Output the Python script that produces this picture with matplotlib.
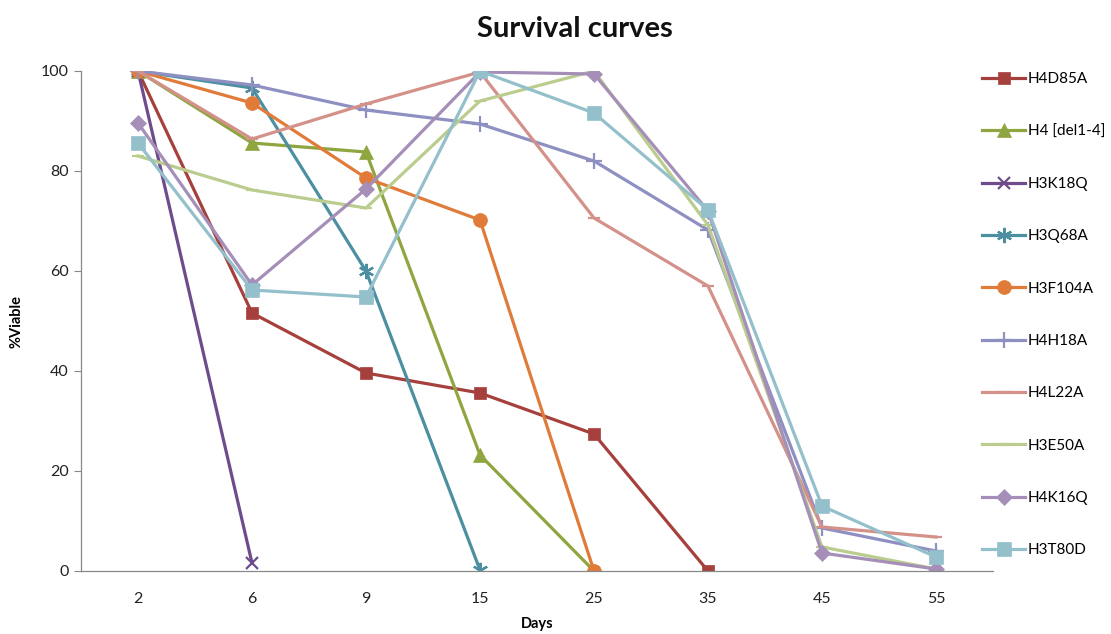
import numpy as np
import matplotlib
matplotlib.use("Agg")
import matplotlib.pyplot as plt

plt.rcParams['font.family'] = ['Lato', 'DejaVu Sans']

days = ["2", "6", "9", "15", "25", "35", "45", "55"]
nan = np.nan

h4d85a = [100, 51.6, 39.6, 35.6, 27.4, 0, nan, nan]
h4_del = [100, 85.6, 83.8, 23.2, 0, nan, nan, nan]
h3k18q = [100, 1.6, nan, nan, nan, nan, nan, nan]
h3q68a = [100, 96.6, 60.0, 0.2, nan, nan, nan, nan]
h3f104a = [100, 93.6, 78.6, 70.2, 0, nan, nan, nan]
h4h18a = [100, 97.2, 92.2, 89.4, 82.0, 68.2, 8.6, 4.0]
h4l22a = [100, 86.4, 93.4, 99.8, 70.6, 57.0, 8.8, 6.8]
h3e50a = [83.0, 76.2, 72.6, 94.0, 100, 69.2, 4.8, 0.4]
h4k16q = [89.6, 57.2, 76.4, 99.8, 99.4, 72.0, 3.6, 0.4]
h3t80d = [85.6, 56.2, 54.8, 100, 91.6, 72.2, 13.0, 2.8]

series = [
    ("H4D85A", h4d85a, "#A5403C", "s", 9),
    ("H4 [del1-4]", h4_del, "#8FA53F", "^", 10),
    ("H3K18Q", h3k18q, "#6E4C8C", "x", 9),
    ("H3Q68A", h3q68a, "#4B8FA1", (6, 2, 0), 11),
    ("H3F104A", h3f104a, "#E07B39", "o", 10),
    ("H4H18A", h4h18a, "#8E90C2", "+", 11),
    ("H4L22A", h4l22a, "#D4918A", "_", 9),
    ("H3E50A", h3e50a, "#BACD8E", "_", 9),
    ("H4K16Q", h4k16q, "#A58FB8", "D", 8),
    ("H3T80D", h3t80d, "#94C0CC", "s", 10),
]

fig = plt.figure(figsize=(11.11, 6.34), dpi=100)
ax = fig.add_axes([81 / 1111, 1 - 571 / 634, (993 - 81) / 1111, 500 / 634])

x = np.arange(len(days))
handles = []
for name, vals, color, mk, ms in series:
    (h,) = ax.plot(x, vals, color=color, lw=2.3, marker=mk, markersize=ms,
                   markeredgewidth=1.6 if mk in ("x", "+", "_", (6, 2, 0)) else 0.5,
                   markeredgecolor=color, markerfacecolor=color, label=name,
                   solid_joinstyle="miter")
    handles.append(h)

ax.set_xlim(-0.5, len(days) - 0.5)
ax.set_ylim(0, 100)
ax.set_xticks(x)
ax.set_xticklabels(days)
ax.set_yticks([0, 20, 40, 60, 80, 100])
ax.tick_params(axis="x", length=0, labelsize=11.5, colors="#222222", pad=15)
ax.tick_params(axis="y", length=5, width=0.8, color="#888888", labelsize=11.5,
               labelcolor="#222222", pad=4)
for s in ("top", "right"):
    ax.spines[s].set_visible(False)
for s in ("left", "bottom"):
    ax.spines[s].set_color("#888888")
    ax.spines[s].set_linewidth(0.9)

ax.set_xlabel("Days", fontsize=10.5, fontweight="bold", labelpad=8)
ax.set_ylabel("%Viable", fontsize=10.5, fontweight="bold", labelpad=12)
fig.text(575 / 1111, 1 - 29 / 634, "Survival curves", ha="center", va="center",
         fontsize=21, fontweight="bold", color="#111111")

fig.legend(handles=handles, loc="upper left", bbox_to_anchor=(976 / 1111, 1 - 66 / 634),
           frameon=False, fontsize=11, labelspacing=2.51, handlelength=2.8,
           handletextpad=0.2, borderaxespad=0)

fig.savefig("out.png", dpi=100)
